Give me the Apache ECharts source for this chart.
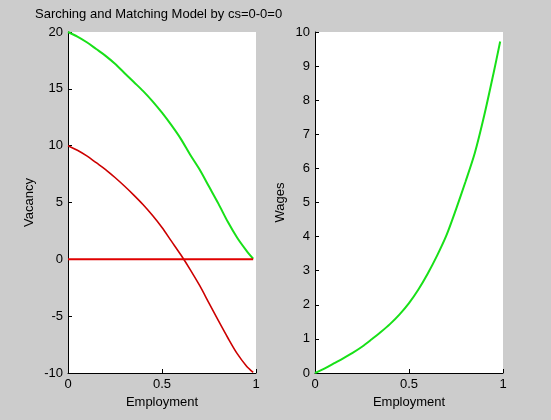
<!DOCTYPE html>
<html>
<head>
<meta charset="utf-8">
<script src="https://cdn.jsdelivr.net/npm/echarts@6/dist/echarts.min.js"></script>
<style>
html,body{margin:0;padding:0;background:#cccccc;}
#c{width:551px;height:420px;}
</style>
</head>
<body>
<div id="c"></div>
<script>
var titleText = 'Sarching and Matching Model by cs=0-0=0';
var employment = [0, 0.05, 0.1, 0.15, 0.2, 0.25, 0.3, 0.35, 0.4, 0.45, 0.5, 0.55, 0.6, 0.65, 0.7, 0.75, 0.8, 0.85, 0.9, 0.95, 0.985];
var vacancyGreen = [20, 19.6, 19.1, 18.5, 17.9, 17.2, 16.4, 15.6, 14.8, 13.9, 12.9, 11.8, 10.6, 9.2, 7.9, 6.4, 4.9, 3.3, 1.9, 0.75, 0.05];
var vacancyRed = [10, 9.6, 9.1, 8.5, 7.9, 7.2, 6.45, 5.65, 4.8, 3.85, 2.8, 1.6, 0.4, -0.9, -2.3, -3.85, -5.4, -6.9, -8.3, -9.4, -9.95];
var zeroLineX = [0, 0.985];
var zeroLineY = [0, 0];
var wages = [0, 0.13, 0.28, 0.43, 0.59, 0.77, 0.98, 1.2, 1.44, 1.72, 2.05, 2.45, 2.92, 3.45, 4.05, 4.8, 5.6, 6.45, 7.55, 8.8, 9.72];
var xTicks = ['0', '0.5', '1'];

function pairs(xs, ys) { return xs.map(function (x, i) { return [x, ys[i]]; }); }

var font = '"Liberation Sans", Arial, sans-serif';
var axisCommon = {
  axisLine: { show: true, onZero: false, lineStyle: { color: '#000', width: 1 } },
  axisTick: { show: true, inside: true, length: 4, lineStyle: { color: '#000' } },
  splitLine: { show: false },
  axisLabel: { color: '#000', fontSize: 13, fontFamily: font, margin: 5 },
  nameTextStyle: { color: '#000', fontSize: 13, fontFamily: font }
};
function xAx(idx) {
  return Object.assign({}, axisCommon, {
    type: 'value', gridIndex: idx, min: 0, max: 1, interval: 0.5,
    name: 'Employment', nameLocation: 'middle', nameGap: 21,
    axisLabel: Object.assign({}, axisCommon.axisLabel, {
      formatter: function (v) { return v === 0 ? xTicks[0] : v === 0.5 ? xTicks[1] : xTicks[2]; }
    })
  });
}

var chart = echarts.init(document.getElementById('c'), null, { renderer: 'canvas' });
chart.setOption({
  backgroundColor: '#cccccc',
  animation: false,
  title: {
    text: titleText, left: 35, top: 8, padding: 0,
    textStyle: { color: '#000', fontSize: 13, fontWeight: 'normal', fontFamily: font }
  },
  grid: [
    { left: 68, top: 32, width: 188, height: 341, show: true, backgroundColor: '#ffffff', borderWidth: 0 },
    { left: 315, top: 32, width: 188, height: 341, show: true, backgroundColor: '#ffffff', borderWidth: 0 }
  ],
  xAxis: [xAx(0), xAx(1)],
  yAxis: [
    Object.assign({}, axisCommon, {
      type: 'value', gridIndex: 0, min: -10, max: 20, interval: 5,
      name: 'Vacancy', nameLocation: 'middle', nameGap: 32
    }),
    Object.assign({}, axisCommon, {
      type: 'value', gridIndex: 1, min: 0, max: 10, interval: 1,
      name: 'Wages', nameLocation: 'middle', nameGap: 28
    })
  ],
  series: [
    { type: 'line', xAxisIndex: 0, yAxisIndex: 0, data: pairs(employment, vacancyGreen), smooth: 0.3,
      showSymbol: false, lineStyle: { color: '#18e018', width: 2 } },
    { type: 'line', xAxisIndex: 0, yAxisIndex: 0, data: pairs(employment, vacancyRed), smooth: 0.3,
      showSymbol: false, lineStyle: { color: '#cc0000', width: 1.6 } },
    { type: 'line', xAxisIndex: 0, yAxisIndex: 0, data: pairs(zeroLineX, zeroLineY),
      showSymbol: false, lineStyle: { color: '#e00000', width: 2 } },
    { type: 'line', xAxisIndex: 1, yAxisIndex: 1, data: pairs(employment, wages), smooth: 0.3,
      showSymbol: false, lineStyle: { color: '#18e018', width: 2 } }
  ]
});
</script>
</body>
</html>
